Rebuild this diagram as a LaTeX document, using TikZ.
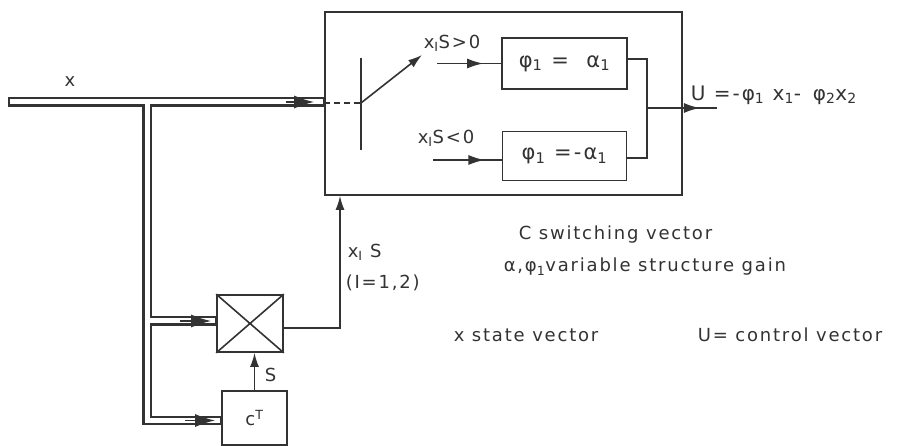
\documentclass[tikz,border=0pt]{standalone}
\usepackage{fontspec}
\setmainfont{DejaVu Sans}[LetterSpace=10]
\usetikzlibrary{arrows.meta,decorations.markings,calc}
\definecolor{ink}{gray}{0.2}
\begin{document}
\begin{tikzpicture}[x=1pt,y=-1pt,line width=1.6pt,color=ink,
  font=\fontsize{18}{20}\selectfont,
  blk/.style={draw,inner sep=0pt,line width=1.7pt},
  arr/.style={-{Latex[length=14pt,width=9pt]}},
  midarr/.style={postaction=decorate,decoration={markings,
     mark=at position #1 with {\arrow{Latex[length=16pt,width=10pt]}}}},
  midarr/.default=0.75,
  busout/.style={line width=9.5pt,draw=ink},
  busin/.style={line width=5pt,draw=white},
  bushead/.style={-{Latex[length=20pt,width=13pt]},line width=1.6pt},
  big/.style={font=\fontsize{21}{24}\selectfont},
  lbl/.style={inner sep=0pt,anchor=west}]
\useasboundingbox[fill=white] (0,0) rectangle (898,446);

% blocks
\node[blk,minimum width=357pt,minimum height=183pt] (outer) at (503.5,103.5) {};
\node[blk,big,minimum width=125pt,minimum height=51pt] (b1) at (564.5,63.5) {φ\textsubscript{1} =\ \ α\textsubscript{1}};
\node[blk,big,minimum width=124pt,minimum height=49pt] (b2) at (564.5,156) {φ\textsubscript{1} =-α\textsubscript{1}};
\node[blk,minimum width=66pt,minimum height=57pt] (mult) at (250,323.5) {};
\node[blk,minimum width=65pt,minimum height=54pt] (ct) at (254.5,418) {c\textsuperscript{T}};
\draw (mult.north west) -- (mult.south east) (mult.north east) -- (mult.south west);

% bus (double lines)
\coordinate (in) at (8,102);
\coordinate (bj) at (147,102);
\coordinate (bm) at (147,321);
\coordinate (bc) at (147,420.5);
\draw[busout] (in) -- (in -| outer.west);
\draw[busout] (bj) -- (bc) -- (bc -| ct.west);
\draw[busout] (bm) -- (bm -| mult.west);
\draw[busin,shorten <=1.5pt,shorten >=0.9pt] (in) -- (in -| outer.west);
\draw[busin,shorten >=0.9pt] (bj) -- (bc) -- (bc -| ct.west);
\draw[busin,shorten >=0.9pt] (bm) -- (bm -| mult.west);
\draw[bushead] ($(in -| outer.west)+(-38,0)$) -- ($(in -| outer.west)+(-10,0)$);
\draw[bushead] ($(bm -| mult.west)+(-36,0)$) -- ($(bm -| mult.west)+(-5,0)$);
\draw[bushead] ($(bc -| ct.west)+(-36,0)$) -- ($(bc -| ct.west)+(-6,0)$);
\node (xl) at (70,82) {x};

% switch
\coordinate (pv) at (361,103);
\coordinate (bt) at (361,58);
\coordinate (bb) at (361,150);
\coordinate (sw) at (422,55);
\draw (bt) -- (bb);
\draw[arr] (pv) -- (sw);
\draw[dash pattern=on 6pt off 4pt] (pv -| outer.west) -- (pv);

% inputs to gain blocks
\coordinate (i1) at (437,63.5);
\coordinate (i2) at (433,160);
\draw[midarr=0.72] (i1) -- (i1 -| b1.west);
\draw[midarr=0.75] (i2) -- (i2 -| b2.west);
\node[lbl] (l1) at (423,43) {x\textsubscript{I}S>0};
\node[lbl] (l2) at (417,138) {x\textsubscript{I}S<0};

% combiner and output
\coordinate (jt) at (647,59);
\coordinate (jb) at (647,158);
\coordinate (jm) at (647,108);
\coordinate (uo) at (717,108);
\draw (jt -| b1.east) -- (jt) -- (jb) -- (jb -| b2.east);
\draw (jm) -- (jm -| outer.east);
\draw[midarr=0.5] (jm -| outer.east) -- (uo);
\node[lbl,font=\fontsize{20}{22}\selectfont] (ulab) at (690,95) {U =-φ\textsubscript{1} x\textsubscript{1}- \,φ\textsubscript{2}x\textsubscript{2}};

% multiplier output and S
\coordinate (mo) at (340,328);
\draw[arr] (mult.east |- mo) -- (mo) -- (mo |- outer.south);
\node[lbl] (l3) at (347,252) {x\textsubscript{I} S};
\node[lbl] (l4) at (345,283) {(I=1,2)};
\draw[arr] (ct.north) -- (ct.north |- mult.south);
\node[lbl] (l5) at (264,375) {S};

% legend
\node[lbl] (g1) at (518,235) {C switching vector};
\node[lbl] (g2) at (503,267) {α,φ\textsubscript{1}variable structure gain};
\node[lbl] (g3) at (453,335) {x state vector};
\node[lbl] (g4) at (697,335) {U= control vector};
\end{tikzpicture}
\end{document}
